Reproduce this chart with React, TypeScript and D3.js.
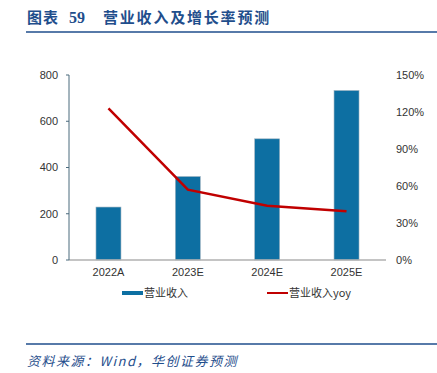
import { scaleBand, scaleLinear, line } from 'd3';

const categories = ['2022A', '2023E', '2024E', '2025E'];
const revenue = [229, 361, 524, 733];
const yoy = [123, 57, 44, 39.5];
const leftTicks = [0, 200, 400, 600, 800];
const rightTicks = [0, 30, 60, 90, 120, 150];

const width = 437;
const height = 373;
const margin = { top: 75, right: 51, bottom: 113, left: 69 };

const barColor = '#0D6FA2';
const lineColor = '#C00000';
const titleColor = '#1F4E8C';
const tickFont = '"Liberation Sans", Arial, sans-serif';
const cjkFont = '"Noto Sans CJK SC", sans-serif';

function App() {
  const innerWidth = width - margin.left - margin.right;
  const innerHeight = height - margin.top - margin.bottom;

  const xScale = scaleBand().domain(categories).range([0, innerWidth]).paddingInner(0.685).paddingOuter(0.34);
  const yLeft = scaleLinear().domain([0, 800]).range([innerHeight, 0]);
  const yRight = scaleLinear().domain([0, 150]).range([innerHeight, 0]);

  const center = (c: string) => (xScale(c) ?? 0) + xScale.bandwidth() / 2;

  const yoyLine = line<number>()
    .x((_, i) => center(categories[i]))
    .y(d => yRight(d));

  return (
    <svg width={width} height={height} style={{ position: 'absolute', left: 0, top: 0, background: '#fff' }}>
      {/* header */}
      <text x={27} y={23} fill={titleColor} fontFamily={cjkFont} fontWeight="bold" fontSize={15} letterSpacing={1}>
        图表
      </text>
      <text x={69} y={23} fill={titleColor} fontFamily='"Liberation Serif", serif' fontWeight="bold" fontSize={16}>
        59
      </text>
      <text x={103} y={23} fill={titleColor} fontFamily={cjkFont} fontWeight="bold" fontSize={15} letterSpacing={1.8}>
        营业收入及增长率预测
      </text>
      <line x1={26} x2={437} y1={32} y2={32} stroke={titleColor} strokeWidth={1.5} />

      <g transform={`translate(${margin.left}, ${margin.top})`}>
        {/* bars */}
        {revenue.map((v, i) => (
          <rect
            key={categories[i]}
            x={xScale(categories[i])}
            y={yLeft(v)}
            width={xScale.bandwidth()}
            height={innerHeight - yLeft(v)}
            fill={barColor}
            stroke="#9fb3c0"
            strokeWidth={0.6}
          />
        ))}

        {/* x axis */}
        <line x1={0} x2={innerWidth} y1={innerHeight} y2={innerHeight} stroke="#b0b0b0" strokeWidth={1.5} />
        {categories.map(c => (
          <text key={c} x={center(c)} y={innerHeight + 16} textAnchor="middle" fontFamily={tickFont} fontSize={11} fill="#333">
            {c}
          </text>
        ))}

        {/* left axis */}
        <line x1={0} x2={0} y1={0} y2={innerHeight} stroke="#4a6a7c" strokeWidth={1} />
        {leftTicks.map(t => (
          <g key={t} transform={`translate(0, ${yLeft(t)})`}>
            <line x1={-3} x2={0} stroke="#4a6a7c" />
            <text x={-11} dy="0.35em" textAnchor="end" fontFamily={tickFont} fontSize={11} fill="#333">
              {t}
            </text>
          </g>
        ))}

        {/* right axis labels */}
        {rightTicks.map(t => (
          <text key={t} x={innerWidth + 10} y={yRight(t)} dy="0.35em" fontFamily={tickFont} fontSize={11} fill="#333">
            {t}%
          </text>
        ))}

        {/* yoy line */}
        <path d={yoyLine(yoy) ?? ''} fill="none" stroke={lineColor} strokeWidth={2.5} />
      </g>

      {/* legend */}
      <rect x={122} y={291} width={21} height={4} fill={barColor} />
      <text x={144} y={297} fontFamily={cjkFont} fontSize={11} fill="#333">营业收入</text>
      <line x1={267} x2={288} y1={293} y2={293} stroke={lineColor} strokeWidth={2} />
      <text x={289} y={297} fontFamily={cjkFont} fontSize={11} fill="#333">营业收入yoy</text>

      {/* footer */}
      <line x1={26} x2={437} y1={344} y2={344} stroke={titleColor} strokeWidth={1.5} />
      <text x={27} y={366} fill={titleColor} fontFamily={cjkFont} fontStyle="italic" fontSize={13} letterSpacing={1.5}>
        资料来源：Wind，华创证券预测
      </text>
    </svg>
  );
}

export default App;
